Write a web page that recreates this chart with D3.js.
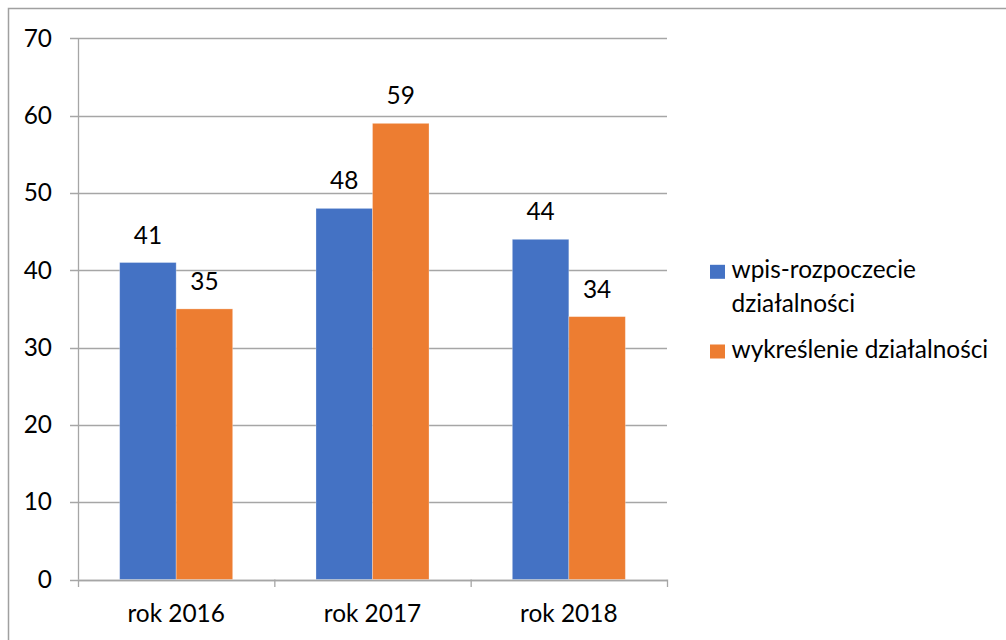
<!DOCTYPE html>
<html><head><meta charset="utf-8">
<script src="https://cdn.jsdelivr.net/npm/d3@7"></script>
<style>body{margin:0;background:#fff}svg{display:block}text{font-family:Lato,"Open Sans",sans-serif;fill:#000}</style>
</head><body><svg id="c" width="1006" height="640"></svg>
<script>
const categories = ["rok 2016", "rok 2017", "rok 2018"];
const seriesNames = ["wpis-rozpoczecie działalności", "wykreślenie działalności"];
const legendLines = [["wpis-rozpoczecie", "działalności"], ["wykreślenie działalności"]];
const wpis = [41, 48, 44];
const wykreslenie = [35, 59, 34];
const yTicks = [0, 10, 20, 30, 40, 50, 60, 70];
const colors = ["#4472c4", "#ed7d31"];

const svg = d3.select("#c");
const fs = 24.4;
// outer border
svg.append("rect").attr("x", 8.5).attr("y", 8.5).attr("width", 1100).attr("height", 700)
  .attr("fill", "none").attr("stroke", "#a0a0a0").attr("stroke-width", 1.5);

const x0 = 78, x1 = 667, yTop = 38.3, yBot = 579.5;
const x = d3.scaleBand().domain(categories).range([x0, x1]).paddingInner(0).paddingOuter(0);
const y = d3.scaleLinear().domain([0, 70]).range([yBot, yTop]);
const groupFrac = 113 / 196.3;
const sub = d3.scaleBand().domain([0, 1]).range([0, x.bandwidth() * groupFrac]);

// gridlines
svg.append("g").selectAll("line").data(yTicks).join("line")
  .attr("x1", 70).attr("x2", x1).attr("y1", d => Math.round(y(d)) + 0.5).attr("y2", d => Math.round(y(d)) + 0.5)
  .attr("stroke", "#a6a6a6").attr("stroke-width", 1.3);
// y axis line
svg.append("line").attr("x1", x0 + 0.5).attr("x2", x0 + 0.5).attr("y1", yTop).attr("y2", yBot)
  .attr("stroke", "#a6a6a6").attr("stroke-width", 1.3);
// y tick labels
svg.append("g").selectAll("text").data(yTicks).join("text")
  .attr("x", 52).attr("y", d => y(d) + 8.3).attr("text-anchor", "end").attr("font-size", fs).text(d => d);

// bars
const data = [wpis, wykreslenie];
const gBars = svg.append("g");
categories.forEach((c, i) => {
  const gx = x(c) + (x.bandwidth() - x.bandwidth() * groupFrac) / 2;
  data.forEach((s, j) => {
    gBars.append("rect").attr("x", gx + sub(j)).attr("y", y(s[i]))
      .attr("width", sub.bandwidth()).attr("height", y(0) - y(s[i]))
      .attr("fill", colors[j]).attr("stroke", "#ffffff").attr("stroke-opacity", 0.35).attr("stroke-width", 0.8);
    gBars.append("text").attr("x", gx + sub(j) + sub.bandwidth() / 2).attr("y", y(s[i]) - 19)
      .attr("text-anchor", "middle").attr("font-size", fs).text(s[i]);
  });
});

// x axis
svg.append("line").attr("x1", x0).attr("x2", x1).attr("y1", Math.round(yBot) + 0.5).attr("y2", Math.round(yBot) + 0.5)
  .attr("stroke", "#a6a6a6").attr("stroke-width", 1.3);
const xt = categories.map(c => x(c)).concat([x1]);
svg.append("g").selectAll("line").data(xt).join("line")
  .attr("x1", d => d + 0.5).attr("x2", d => d + 0.5).attr("y1", yBot).attr("y2", yBot + 7.5)
  .attr("stroke", "#a6a6a6").attr("stroke-width", 1.3);
svg.append("g").selectAll("text").data(categories).join("text")
  .attr("x", d => x(d) + x.bandwidth() / 2).attr("y", 621.5).attr("text-anchor", "middle")
  .attr("font-size", fs).text(d => d);

// legend
const legY = [278.3, 358];
seriesNames.forEach((n, j) => {
  svg.append("rect").attr("x", 710).attr("y", legY[j] - 13.5).attr("width", 15).attr("height", 14).attr("fill", colors[j]);
  const t = svg.append("text").attr("x", 731.5).attr("y", legY[j]).attr("font-size", fs);
  legendLines[j].forEach((l, k) => t.append("tspan").attr("x", 731.5).attr("dy", k === 0 ? 0 : 33.4).text(l));
});
</script></body></html>
